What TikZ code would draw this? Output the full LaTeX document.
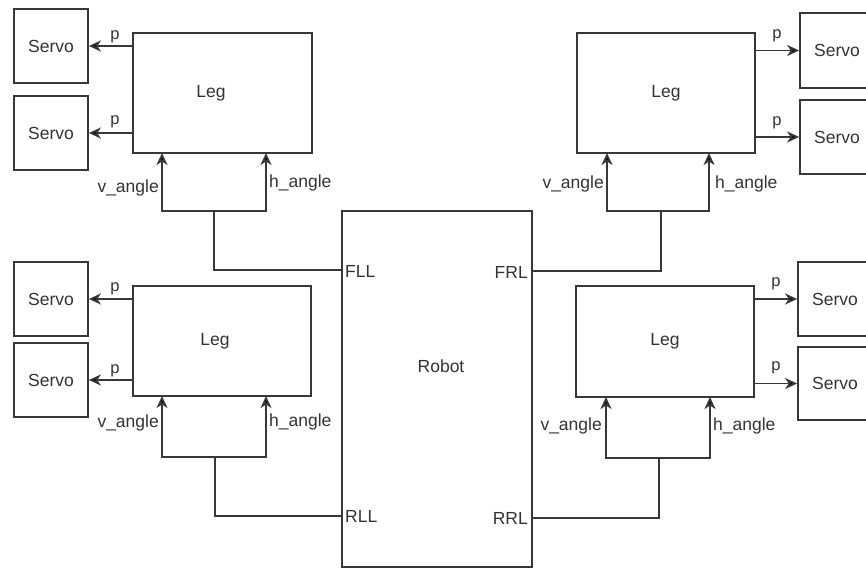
\documentclass[tikz,border=0pt]{standalone}
\usepackage{fontspec}
\setmainfont{Liberation Sans}
\usetikzlibrary{arrows.meta}
\begin{document}
\begin{tikzpicture}[x=1pt,y=-1pt,
  box/.style={draw=black!78,line width=1.7pt,fill=white,inner sep=0pt,minimum width=#1},
  line/.style={draw=black!78,line width=1.7pt},
  arr/.style={line,-{Stealth[length=12pt,width=11pt,inset=3.5pt,fill=black]}},
  lbl/.style={text=black!80,font=\fontsize{17.5}{20}\selectfont,inner sep=1pt},
  plbl/.style={text=black!80,font=\fontsize{16.5}{19}\selectfont,inner sep=0pt}]
\useasboundingbox (0,0) rectangle (866,569);
\clip (0,0) rectangle (866,569);
% Legs
\node[box=179pt,minimum height=120pt] (legTL) at (222.5,93) {};
\node[box=178pt,minimum height=120pt] (legTR) at (666,93) {};
\node[box=178pt,minimum height=110pt] (legBL) at (222,341) {};
\node[box=178pt,minimum height=111pt] (legBR) at (665,341.5) {};
\node[lbl] (tLegTL) at (211,93) {Leg};
\node[lbl] (tLegTR) at (666,93) {Leg};
\node[lbl] (tLegBL) at (215,341) {Leg};
\node[lbl] (tLegBR) at (665,341) {Leg};
% Servos
\node[box=74pt,minimum height=74pt,lbl] (sTL1) at (51,46) {Servo};
\node[box=74pt,minimum height=74pt,lbl] (sTL2) at (51,133) {Servo};
\node[box=74pt,minimum height=75pt,lbl] (sTR1) at (837,50.5) {Servo};
\node[box=74pt,minimum height=74pt,lbl] (sTR2) at (837,137) {Servo};
\node[box=74pt,minimum height=74pt,lbl] (sBL1) at (51,299) {Servo};
\node[box=74pt,minimum height=74pt,lbl] (sBL2) at (51,380) {Servo};
\node[box=74pt,minimum height=74pt,lbl] (sBR1) at (835,299) {Servo};
\node[box=74pt,minimum height=73pt,lbl] (sBR2) at (835,383.5) {Servo};
% Robot
\node[box=190pt,minimum height=356pt] (rob) at (437,389) {};
\node[lbl] (tRob) at (441,366) {Robot};
\node[lbl,anchor=west] (tFLL) at (344,271) {FLL};
\node[lbl,anchor=east] (tFRL) at (529,272) {FRL};
\node[lbl,anchor=west] (tRLL) at (344,516) {RLL};
\node[lbl,anchor=east] (tRRL) at (529,518) {RRL};
% p arrows
\draw[arr] (legTL.west |- sTL1.east) -- (sTL1.east);
\draw[arr] (legTL.west |- sTL2.east) -- (sTL2.east);
\draw[arr] (legBL.west |- sBL1.east) -- (sBL1.east);
\draw[arr] (legBL.west |- sBL2.east) -- (sBL2.east);
\draw[arr] (legTR.east |- sTR1.west) -- (sTR1.west);
\draw[arr] (legTR.east |- sTR2.west) -- (sTR2.west);
\draw[arr] (legBR.east |- sBR1.west) -- (sBR1.west);
\draw[arr] (legBR.east |- sBR2.west) -- (sBR2.west);
\node[plbl] (pTL1) at (115,37) {p};
\node[plbl] (pTL2) at (115,122) {p};
\node[plbl] (pBL1) at (115,289) {p};
\node[plbl] (pBL2) at (115,371) {p};
\node[plbl] (pTR1) at (777,36) {p};
\node[plbl] (pTR2) at (777,123) {p};
\node[plbl] (pBR1) at (776,284) {p};
\node[plbl] (pBR2) at (776,368) {p};
% ports and junctions
\coordinate (fll) at (rob.west |- 0,270);
\coordinate (rll) at (rob.west |- 0,516);
\coordinate (frl) at (rob.east |- 0,271);
\coordinate (rrl) at (rob.east |- 0,518);
\coordinate (jTL) at (214,211);
\coordinate (jTR) at (661,211);
\coordinate (jBL) at (215,457);
\coordinate (jBR) at (659,458);
\coordinate (vTL) at (162,153); \coordinate (hTL) at (266,153);
\coordinate (vTR) at (607,153); \coordinate (hTR) at (709,153);
\coordinate (vBL) at (162,396); \coordinate (hBL) at (266,396);
\coordinate (vBR) at (606,397); \coordinate (hBR) at (710,397);
\draw[line] (fll) -| (jTL);
\draw[line] (rll) -| (jBL);
\draw[line] (frl) -| (jTR);
\draw[line] (rrl) -| (jBR);
\draw[arr] (jTL) -| (vTL); \draw[arr] (jTL) -| (hTL);
\draw[arr] (jTR) -| (vTR); \draw[arr] (jTR) -| (hTR);
\draw[arr] (jBL) -| (vBL); \draw[arr] (jBL) -| (hBL);
\draw[arr] (jBR) -| (vBR); \draw[arr] (jBR) -| (hBR);
% angle labels
\node[lbl,anchor=east] (tvTL) at (160,188) {v\_angle};
\node[lbl,anchor=west] (thTL) at (268,183) {h\_angle};
\node[lbl,anchor=east] (tvTR) at (605,184) {v\_angle};
\node[lbl,anchor=west] (thTR) at (714,184) {h\_angle};
\node[lbl,anchor=east] (tvBL) at (160,423) {v\_angle};
\node[lbl,anchor=west] (thBL) at (268,422) {h\_angle};
\node[lbl,anchor=east] (tvBR) at (603,426) {v\_angle};
\node[lbl,anchor=west] (thBR) at (712,426) {h\_angle};
\end{tikzpicture}
\end{document}
